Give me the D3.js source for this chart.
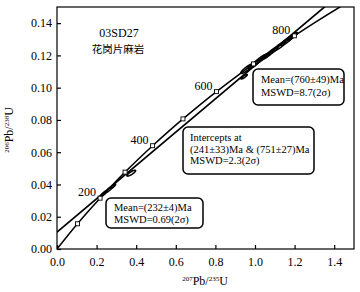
<!DOCTYPE html>
<html>
<head>
<meta charset="utf-8">
<script src="https://cdn.jsdelivr.net/npm/d3@7"></script>
<style>
  body { margin: 0; background: #fff; overflow: hidden; }
  svg { display: block; }
  svg text { font-family: "Liberation Serif", "Times New Roman", serif; fill: #000; }
</style>
</head>
<body>
<svg width="360" height="292"></svg>
<script>
const svg = d3.select("svg");

// concordia ages (Ma) and their 207Pb/235U, 206Pb/238U coordinates
const concordiaAges = [0, 50, 100, 150, 200, 250, 300, 350, 400, 450, 500, 550, 600, 650, 700, 750, 800, 850, 900, 950];
const concordiaX = [0, 0.050475, 0.103498, 0.159197, 0.217708, 0.279172, 0.343737, 0.411562, 0.482810, 0.557657, 0.636280, 0.718871, 0.805630, 0.896771, 0.992510, 1.093082, 1.198729, 1.309711, 1.426296, 1.548763];
const concordiaY = [0, 0.007786, 0.015633, 0.023542, 0.031511, 0.039543, 0.047637, 0.055794, 0.064016, 0.072301, 0.080650, 0.089064, 0.097544, 0.106090, 0.114702, 0.123382, 0.132129, 0.140944, 0.149828, 0.158781];
const markerAges = [100, 200, 300, 400, 500, 600, 700, 800];
const labelAges = [200, 400, 600, 800];

// discordia intercepts (241 Ma and 751 Ma)
const interceptX = [0.267884, 1.095144];
const interceptY = [0.038093, 0.123556];

// analyses: 207/235, 206/238, 2s errors, error correlation
const spotX   = [0.945, 0.960, 0.995, 1.030, 1.060, 1.090, 1.125, 1.160, 1.190, 0.238, 0.262, 0.282, 0.375];
const spotY   = [0.1068, 0.1118, 0.1145, 0.1178, 0.1200, 0.1228, 0.1258, 0.1290, 0.1318, 0.0345, 0.0368, 0.0388, 0.0470];
const spotSx  = [0.016, 0.032, 0.030, 0.032, 0.028, 0.026, 0.032, 0.030, 0.024, 0.016, 0.016, 0.014, 0.022];
const spotSy  = [0.0014, 0.0030, 0.0028, 0.0030, 0.0026, 0.0025, 0.0030, 0.0028, 0.0023, 0.0017, 0.0017, 0.0015, 0.0018];
const spotRho = [0.88, 0.90, 0.90, 0.91, 0.90, 0.90, 0.91, 0.90, 0.90, 0.88, 0.88, 0.88, 0.85];

const xTicks = [0, 0.2, 0.4, 0.6, 0.8, 1.0, 1.2, 1.4];
const yTicks = [0, 0.02, 0.04, 0.06, 0.08, 0.10, 0.12, 0.14];

const margin = { top: 7, right: 6, bottom: 43, left: 57 };
const width = 360, height = 292;
const innerWidth = width - margin.left - margin.right;
const innerHeight = height - margin.top - margin.bottom;

const xScale = d3.scaleLinear().domain([0, 1.5]).range([0, innerWidth]);
const yScale = d3.scaleLinear().domain([0, 0.15]).range([innerHeight, 0]);

const g = svg.append("g")
    .attr("transform", `translate(${margin.left}, ${margin.top})`);

svg.append("defs").append("clipPath").attr("id", "plot")
    .append("rect").attr("width", innerWidth).attr("height", innerHeight);

const plot = g.append("g").attr("clip-path", "url(#plot)");

// concordia
const concordia = concordiaAges.map((t, i) => [concordiaX[i], concordiaY[i]]);
const line = d3.line().x(d => xScale(d[0])).y(d => yScale(d[1])).curve(d3.curveCatmullRom);
plot.append("path")
    .attr("d", line(concordia))
    .attr("fill", "none")
    .attr("stroke", "#000")
    .attr("stroke-width", 1.5);

// discordia through both intercepts
const slope = (interceptY[1] - interceptY[0]) / (interceptX[1] - interceptX[0]);
const yAt = x => interceptY[0] + slope * (x - interceptX[0]);
plot.append("line")
    .attr("x1", xScale(0)).attr("y1", yScale(yAt(0)))
    .attr("x2", xScale(1.5)).attr("y2", yScale(yAt(1.5)))
    .attr("stroke", "#000")
    .attr("stroke-width", 1.7);

// error ellipses
const ellipse = i => {
    const pts = d3.range(0, 2 * Math.PI + 0.01, Math.PI / 24).map(a => [
        spotX[i] + spotSx[i] * Math.cos(a),
        spotY[i] + spotSy[i] * (spotRho[i] * Math.cos(a) + Math.sqrt(1 - spotRho[i] ** 2) * Math.sin(a))
    ]);
    return d3.line().x(d => xScale(d[0])).y(d => yScale(d[1]))(pts) + "Z";
};
plot.selectAll(".spot").data(spotX.map((d, i) => i))
    .enter().append("path")
        .attr("class", "spot")
        .attr("d", ellipse)
        .attr("fill", "none")
        .attr("stroke", "#000")
        .attr("stroke-width", 1.6);

// age markers
const ageIndex = t => concordiaAges.indexOf(t);
plot.selectAll(".age").data(markerAges)
    .enter().append("rect")
        .attr("class", "age")
        .attr("x", d => xScale(concordiaX[ageIndex(d)]) - 2)
        .attr("y", d => yScale(concordiaY[ageIndex(d)]) - 2)
        .attr("width", 4).attr("height", 4)
        .attr("fill", "#fff")
        .attr("stroke", "#000")
        .attr("stroke-width", 0.9);

g.selectAll(".age-label").data(labelAges)
    .enter().append("text")
        .attr("class", "age-label")
        .attr("x", d => xScale(concordiaX[ageIndex(d)]) - 4)
        .attr("y", d => yScale(concordiaY[ageIndex(d)]) - 2)
        .attr("text-anchor", "end")
        .attr("font-size", 12)
        .text(d => d);

// axes, ticks pointing inward
const xAxis = d3.axisBottom(xScale).tickValues(xTicks).tickFormat(d3.format(".1f"))
    .tickSizeInner(-4).tickSizeOuter(0).tickPadding(8);
const yAxis = d3.axisLeft(yScale).tickValues(yTicks).tickFormat(d3.format(".2f"))
    .tickSizeInner(-4).tickSizeOuter(0).tickPadding(5);

const xAxisG = g.append("g").attr("transform", `translate(0, ${innerHeight})`).call(xAxis);
const yAxisG = g.append("g").call(yAxis);
[xAxisG, yAxisG].forEach(a => {
    a.select(".domain").remove();
    a.attr("font-family", null).attr("font-size", null);
    a.selectAll(".tick line").attr("stroke-width", 1.2);
    a.selectAll(".tick text").attr("font-size", 12);
});

g.append("rect")
    .attr("width", innerWidth).attr("height", innerHeight)
    .attr("fill", "none").attr("stroke", "#000").attr("stroke-width", 1.2);

// axis titles
const xTitle = svg.append("text")
    .attr("x", 205).attr("y", 285)
    .attr("text-anchor", "middle")
    .attr("font-size", 12);
xTitle.append("tspan").attr("font-size", 7).attr("dy", -4).text("207");
xTitle.append("tspan").attr("dy", 4).text("Pb/");
xTitle.append("tspan").attr("font-size", 7).attr("dy", -4).text("235");
xTitle.append("tspan").attr("dy", 4).text("U");

const yTitle = svg.append("text")
    .attr("transform", "translate(13, 130) rotate(-90)")
    .attr("text-anchor", "middle")
    .attr("font-size", 12);
yTitle.append("tspan").attr("font-size", 7).attr("dy", -4).text("206");
yTitle.append("tspan").attr("dy", 4).text("Pb/");
yTitle.append("tspan").attr("font-size", 7).attr("dy", -4).text("238");
yTitle.append("tspan").attr("dy", 4).text("U");

// sample name
svg.append("text").attr("x", 119).attr("y", 37).attr("text-anchor", "middle")
    .attr("font-size", 12).text("03SD27");
svg.append("text").attr("x", 118).attr("y", 53).attr("text-anchor", "middle")
    .attr("font-size", 10.5).style("font-family", "'Noto Sans CJK SC', sans-serif")
    .text("花岗片麻岩");

// result boxes
const boxes = [
    { x: 253, y: 69, w: 91, h: 36, tx: 261, base: 83, step: 13, lines: ["Mean=(760±49)Ma", "MSWD=8.7(2σ)"] },
    { x: 183, y: 127, w: 131, h: 47, tx: 190, base: 141, step: 11.5, lines: ["Intercepts at", "(241±33)Ma & (751±27)Ma", "MSWD=2.3(2σ)"] },
    { x: 106, y: 198, w: 97, h: 30, tx: 114, base: 211, step: 12, lines: ["Mean=(232±4)Ma", "MSWD=0.69(2σ)"] }
];
const boxG = svg.selectAll(".box").data(boxes).enter().append("g").attr("class", "box");
boxG.append("rect")
    .attr("x", d => d.x).attr("y", d => d.y)
    .attr("width", d => d.w).attr("height", d => d.h)
    .attr("rx", 5)
    .attr("fill", "#fff").attr("stroke", "#000").attr("stroke-width", 1.5);
boxG.each(function(d) {
    d3.select(this).selectAll("text").data(d.lines).enter().append("text")
        .attr("x", d.tx)
        .attr("y", (l, i) => d.base + i * d.step)
        .attr("font-size", 10.5)
        .text(l => l);
});
</script>
</body>
</html>
